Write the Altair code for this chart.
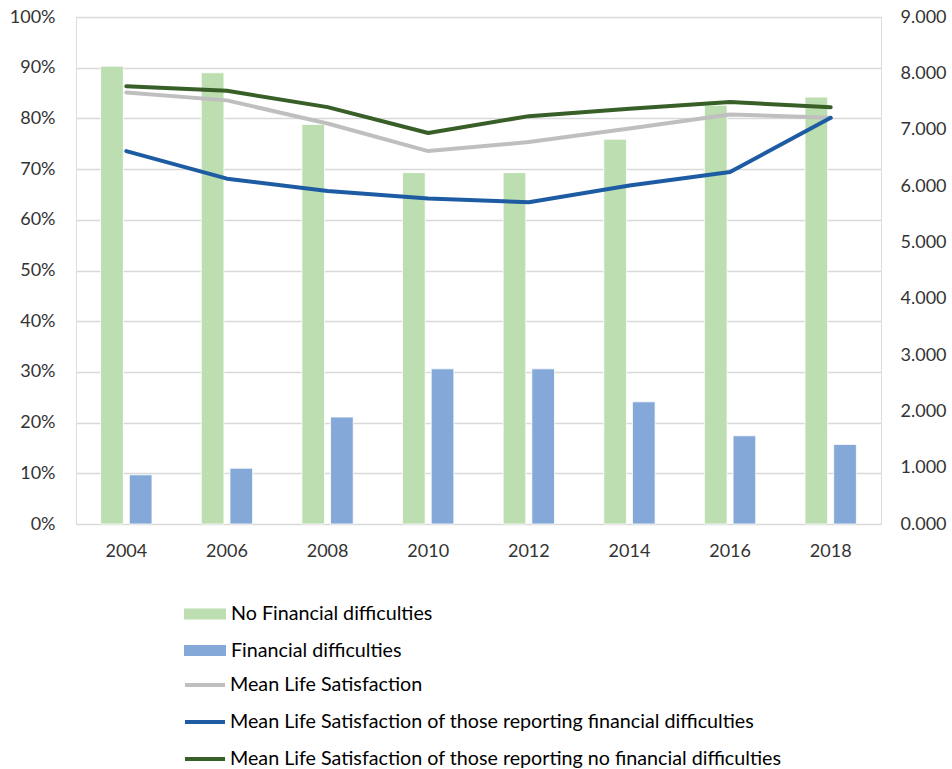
import altair as alt
import pandas as pd

years = ["2004", "2006", "2008", "2010", "2012", "2014", "2016", "2018"]
no_fin_share = [0.903, 0.890, 0.788, 0.693, 0.693, 0.759, 0.826, 0.842]
fin_share = [0.097, 0.110, 0.211, 0.306, 0.306, 0.241, 0.174, 0.157]
mean_ls = [7.66, 7.52, 7.11, 6.62, 6.78, 7.02, 7.27, 7.21]
ls_fin = [6.62, 6.13, 5.91, 5.78, 5.71, 6.01, 6.25, 7.21]
ls_nofin = [7.77, 7.69, 7.40, 6.94, 7.24, 7.37, 7.49, 7.40]

bar_series = ["No Financial difficulties", "Financial difficulties"]
bar_colors = ["#bcdeb1", "#84a8d7"]
line_series = [
    "Mean Life Satisfaction",
    "Mean Life Satisfaction of those reporting financial difficulties",
    "Mean Life Satisfaction of those reporting no financial difficulties",
]
line_colors = ["#bfbfbf", "#1d5ca3", "#375f27"]

left_ticks = [i / 10 for i in range(11)]
right_ticks = list(range(10))

bars_df = pd.DataFrame(
    [{"year": y, "series": bar_series[0], "value": v} for y, v in zip(years, no_fin_share)]
    + [{"year": y, "series": bar_series[1], "value": v} for y, v in zip(years, fin_share)]
)
lines_df = pd.DataFrame(
    [{"year": y, "series": line_series[0], "value": v, "o": 0} for y, v in zip(years, mean_ls)]
    + [{"year": y, "series": line_series[1], "value": v, "o": 1} for y, v in zip(years, ls_fin)]
    + [{"year": y, "series": line_series[2], "value": v, "o": 2} for y, v in zip(years, ls_nofin)]
)

FONT = "Lato"
TXT = "#333333"
LEG_FS = 19.7

bars = alt.Chart(bars_df).mark_bar(stroke="#ffffff", strokeWidth=0.8).encode(
    x=alt.X(
        "year:N",
        sort=years,
        scale=alt.Scale(paddingInner=0.49, paddingOuter=0.245),
        axis=alt.Axis(title=None, labelAngle=0, ticks=False, domain=False,
                      labelPadding=18, labelFontSize=18, labelColor=TXT, labelFont=FONT),
    ),
    xOffset=alt.XOffset("series:N", sort=bar_series,
                        scale=alt.Scale(domain=bar_series, paddingInner=0.21, paddingOuter=0)),
    y=alt.Y(
        "value:Q",
        scale=alt.Scale(domain=[0, 1], nice=False),
        axis=alt.Axis(title=None, values=left_ticks, format=".0%", grid=True,
                      gridColor="#d9d9d9", gridWidth=1.3, ticks=False, domain=False,
                      labelPadding=21, labelFontSize=18, labelColor=TXT, labelFont=FONT),
    ),
    fill=alt.Fill(
        "series:N",
        sort=bar_series,
        scale=alt.Scale(domain=bar_series, range=bar_colors),
        legend=alt.Legend(
            title=None, orient="none", legendX=108, legendY=576, direction="vertical",
            symbolType="M-1,-0.262H1V0.262H-1Z", symbolSize=1764, symbolStrokeWidth=0,
            labelFontSize=LEG_FS, labelFont=FONT, labelColor="#000000", labelOffset=5,
            rowPadding=5.5, labelLimit=800,
        ),
    ),
)

lines = alt.Chart(lines_df).mark_line(strokeWidth=4, strokeJoin="round", strokeCap="round").encode(
    x=alt.X("year:N", sort=years),
    y=alt.Y(
        "value:Q",
        scale=alt.Scale(domain=[0, 9], nice=False),
        axis=alt.Axis(title=None, orient="right", values=right_ticks, format=".3f", grid=False,
                      ticks=False, domain=False, labelPadding=19, labelFontSize=18,
                      labelColor=TXT, labelFont=FONT),
    ),
    stroke=alt.Stroke(
        "series:N",
        sort=line_series,
        scale=alt.Scale(domain=line_series, range=line_colors),
        legend=alt.Legend(
            title=None, orient="none", legendX=107, legendY=646, direction="vertical",
            symbolType="stroke", symbolSize=1600, symbolStrokeWidth=4,
            labelFontSize=LEG_FS, labelFont=FONT, labelColor="#000000", labelOffset=3,
            rowPadding=5, labelLimit=800,
        ),
    ),
    order="o:Q",
)

chart = (
    alt.layer(bars, lines)
    .resolve_scale(y="independent")
    .properties(
        width=805,
        height=507,
        padding={"left": 76, "top": 17, "right": 71, "bottom": 245},
        autosize=alt.AutoSizeParams(type="none"),
    )
    .configure_view(stroke=None)
    .configure(font=FONT, background="#ffffff")
)

chart.save("out.html", embed_options={"renderer": "svg", "actions": False})
